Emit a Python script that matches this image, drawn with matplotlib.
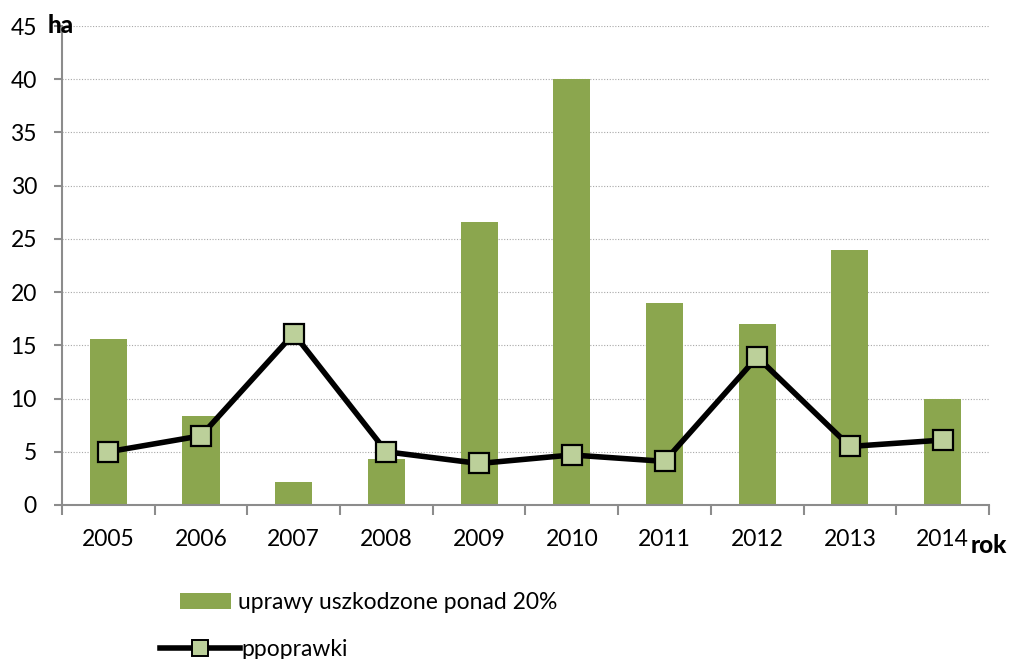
import matplotlib
matplotlib.use("Agg")
import matplotlib.pyplot as plt
import numpy as np
from matplotlib.lines import Line2D
from matplotlib.patches import Patch

years = ["2005", "2006", "2007", "2008", "2009", "2010", "2011", "2012", "2013", "2014"]
uprawy = [15.6, 8.4, 2.2, 4.3, 26.6, 40.0, 19.0, 17.0, 24.0, 10.0]
poprawki = [5.0, 6.5, 16.1, 5.0, 3.9, 4.7, 4.1, 13.9, 5.5, 6.1]
yticks = [0, 5, 10, 15, 20, 25, 30, 35, 40, 45]

plt.rcParams['font.family'] = ['Lato', 'DejaVu Sans']
FS = 16.5

fig = plt.figure(figsize=(10.14, 6.59), dpi=100)
ax = fig.add_axes([0.0611, 0.2337, 0.9142, 0.7268])

x = np.arange(len(years))
bar_color = "#8BA64E"
ax.bar(x, uprawy, width=0.4, color=bar_color, zorder=2)
ax.plot(x, poprawki, color="black", linewidth=4, marker="s", markersize=14,
        markerfacecolor="#BCD09A", markeredgecolor="black", markeredgewidth=1.6, zorder=3)

ax.set_xlim(-0.5, len(years) - 0.5)
ax.set_ylim(0, 45)
ax.set_yticks(yticks)
ax.set_yticklabels([str(v) for v in yticks], fontsize=FS)
ax.set_xticks(x)
ax.set_xticklabels(years, fontsize=FS)
ax.tick_params(axis="x", length=0, pad=17)
ax.set_xticks(np.arange(-0.5, len(years)), minor=True)
ax.tick_params(axis="x", which="minor", length=7, width=1.5, color="#8c8c8c", direction="out")
ax.tick_params(axis="y", length=6, width=1.5, color="#8c8c8c", direction="out", pad=12)

ax.yaxis.grid(True, linestyle=(0, (1, 1.5)), color="#a8a8a8", linewidth=0.8, zorder=0)
ax.set_axisbelow(True)
for s in ["top", "right"]:
    ax.spines[s].set_visible(False)
for s in ["left", "bottom"]:
    ax.spines[s].set_color("#8c8c8c")
    ax.spines[s].set_linewidth(1.5)

fig.text(0.047, 0.962, "ha", fontsize=17.5, fontweight="black", ha="left", va="center")
fig.text(0.957, 0.172, "rok", fontsize=17.5, fontweight="black", ha="left", va="center")

h1 = Patch(facecolor=bar_color, edgecolor="none")
h2 = Line2D([], [], color="black", linewidth=4, marker="s", markersize=11,
            markerfacecolor="#BCD09A", markeredgecolor="black", markeredgewidth=1.4)
fig.legend([h1], ["uprawy uszkodzone ponad 20%"], loc="center left",
           bbox_to_anchor=(0.157, 0.085), frameon=False, fontsize=FS,
           handlelength=2.25, handleheight=0.7, handletextpad=0.3)
fig.legend([h2], ["ppoprawki"], loc="center left",
           bbox_to_anchor=(0.137, 0.014), frameon=False, fontsize=FS,
           handlelength=3.5, handletextpad=0.05)

fig.savefig("out.png", dpi=100)
